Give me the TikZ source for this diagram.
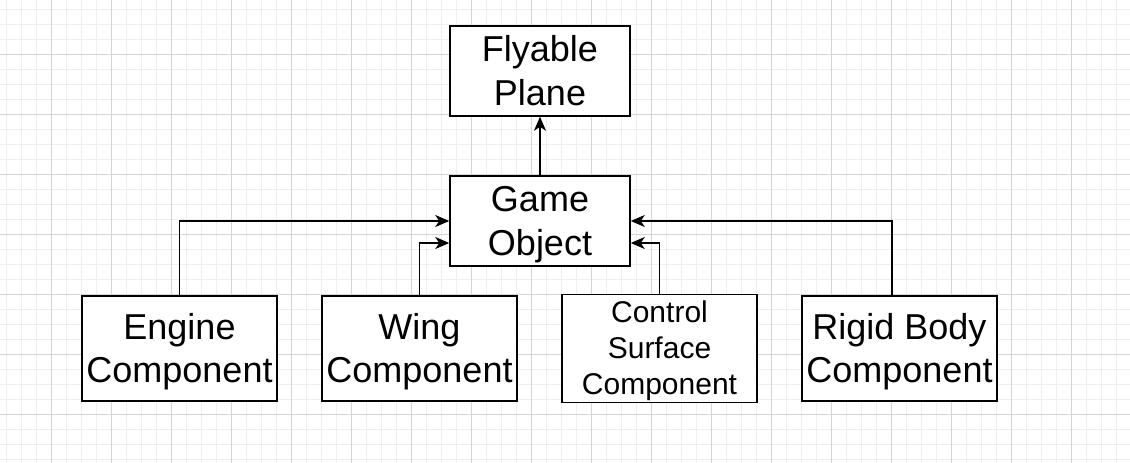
\documentclass[tikz,border=0pt]{standalone}
\usepackage{fontspec}
\setmainfont{Liberation Sans}
\usetikzlibrary{arrows.meta,calc}
\definecolor{gridminor}{HTML}{EFEFEF}
\definecolor{gridmajor}{HTML}{D4D4D4}
\newcommand{\lb}{\rule[-0.2535em]{0pt}{1.2em}}
\tikzset{
  box/.style={draw=black, line width=1.5pt, fill=white, inner sep=0pt, align=center,
    font=\fontsize{36}{43.2}\selectfont},
  topbox/.style={box, minimum width=180pt, minimum height=90pt},
  compbox/.style={box, minimum width=195pt, minimum height=105pt},
  link/.style={draw=black, line width=1.5pt, -{Stealth[length=14pt,width=12pt,inset=4pt]}}
}
\begin{document}
\begin{tikzpicture}[x=1pt,y=-1pt]
  \useasboundingbox (0,0) rectangle (1130,463);
  \fill[white] (0,0) rectangle (1130,463);
  \begin{scope}
    \clip (0,0) rectangle (1130,463);
    \foreach \k in {0,...,75} {
      \draw[gridminor, line width=1pt] ({6+15*\k},0) -- ({6+15*\k},463);
    }
    \foreach \k in {0,...,31} {
      \draw[gridminor, line width=1pt] (0,{9+15*\k}) -- (1130,{9+15*\k});
    }
    \foreach \k in {0,...,18} {
      \draw[gridmajor, line width=1pt] ({51+60*\k},0) -- ({51+60*\k},463);
    }
    \foreach \k in {0,...,7} {
      \draw[gridmajor, line width=1pt] (0,{54+60*\k}) -- (1130,{54+60*\k});
    }
  \end{scope}

  \node[topbox] (plane) at (540,71) {\lb Flyable\\\lb Plane};
  \node[topbox] (go) at (540,221) {\lb Game\\\lb Object};
  \node[compbox] (engine) at (179.5,348.5) {\lb Engine\\\lb Component};
  \node[compbox] (wing) at (419.5,348.5) {\lb Wing\\\lb Component};
  \node[compbox, font=\fontsize{30}{36}\selectfont] (control) at (659.5,348.5) {\lb Control\\\lb Surface\\\lb Component};
  \node[compbox] (rigid) at (899.5,348.5) {\lb Rigid Body\\\lb Component};

  \coordinate (goW1) at ($(go.west)+(0,0)$);
  \coordinate (goW2) at ($(go.west)+(0,22)$);
  \coordinate (goE1) at ($(go.east)+(0,0)$);
  \coordinate (goE2) at ($(go.east)+(0,22)$);

  \draw[link] (go.north) -- (plane.south);
  \draw[link] (engine.north) |- (goW1);
  \draw[link] (wing.north) |- (goW2);
  \draw[link] (control.north) |- (goE2);
  \draw[link] ($(rigid.north)+(-7.5,0)$) |- (goE1);
\end{tikzpicture}
\end{document}
